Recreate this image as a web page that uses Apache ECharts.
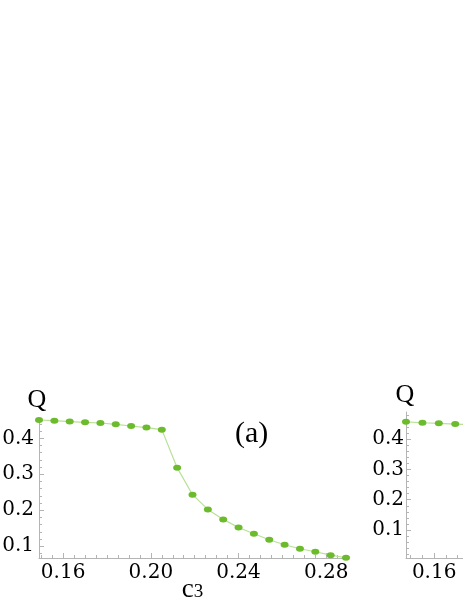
<!DOCTYPE html>
<html><head><meta charset="utf-8">
<script src="https://cdn.jsdelivr.net/npm/echarts@6/dist/echarts.min.js"></script>
<style>html,body{margin:0;padding:0;background:#fff;overflow:hidden}#c{width:463px;height:599px}</style>
</head><body><div id="c"></div>
<script>
// Panel (a)
const c3A = [0.149,0.156,0.163,0.170,0.177,0.184,0.191,0.198,0.205,0.212,0.219,0.226,0.233,0.240,0.247,0.254,0.261,0.268,0.275,0.282,0.289];
const qA  = [0.451,0.449,0.4465,0.4446,0.4426,0.439,0.4343,0.4298,0.4242,0.3184,0.2432,0.2022,0.1744,0.152,0.1345,0.1178,0.1039,0.0927,0.0844,0.075,0.0677];
// Panel (b) (cut off at the right edge)
const c3B = [0.148,0.155,0.162,0.169,0.176];
const qB  = [0.457,0.454,0.452,0.4495,0.447];
// ticks
const xMajor = [0.16,0.20,0.24,0.28];
const yMajor = [0.1,0.2,0.3,0.4];
const panelLabel = '(a)';

function range(a,b,s){const r=[];for(let i=Math.round(a/s);i<=Math.round(b/s);i++){r.push(+(i*s).toFixed(4));}return r;}
const xMinor = range(0.15,0.285,0.005).filter(v=>!xMajor.some(m=>Math.abs(m-v)<1e-6));
const yMinorA = range(0.08,0.44,0.02).filter(v=>!yMajor.some(m=>Math.abs(m-v)<1e-6));
const yMinorB = range(0.02,0.48,0.02).filter(v=>!yMajor.some(m=>Math.abs(m-v)<1e-6));

const AX = '#b4b4b4';
const TICKFONT = {fontFamily:'DejaVu Serif', fontSize:20, color:'#000'};
const GREEN = '#6cbb2c', LGREEN = '#b8e096';

function xMajorAxis(g,min,max,withName){
  const o = {type:'value', gridIndex:g, min:min, max:max, position:'bottom', axisLine:{show:true,onZero:false,lineStyle:{color:AX,width:1}},
    axisTick:{show:true,inside:true,length:5,customValues:xMajor,lineStyle:{color:AX}},
    axisLabel:Object.assign({show:true,margin:5,customValues:xMajor,formatter:v=>v.toFixed(2)},TICKFONT),
    splitLine:{show:false}};
  if(withName){
    o.name='{c|c}{s|3}'; o.nameLocation='middle'; o.nameGap=18; o.nameMoveOverlap=false;
    o.nameTextStyle={rich:{c:{fontFamily:'Liberation Serif',fontSize:27,color:'#000',verticalAlign:'top',lineHeight:26},
                           s:{fontFamily:'Liberation Serif',fontSize:19,color:'#000',padding:[14,0,0,0],verticalAlign:'bottom',lineHeight:18}}};
  }
  return o;
}
function xMinorAxis(g,min,max){
  return {type:'value', gridIndex:g, min:min, max:max, position:'bottom',
    axisLine:{show:false,onZero:false}, axisTick:{show:true,inside:true,length:3,customValues:xMinor,lineStyle:{color:AX}},
    axisLabel:{show:false}, splitLine:{show:false}};
}
function yMajorAxis(g,min,max,margin,gap,pad){
  return {type:'value', gridIndex:g, min:min, max:max, position:'left',
    name:'Q', nameLocation:'end', nameGap:gap, nameMoveOverlap:false,
    nameTextStyle:{fontFamily:'Liberation Serif',fontSize:26,color:'#000',padding:pad},
    axisLine:{show:true,onZero:false,lineStyle:{color:AX,width:1}},
    axisTick:{show:true,inside:true,length:5,customValues:yMajor,lineStyle:{color:AX}},
    axisLabel:Object.assign({show:true,margin:margin,customValues:yMajor,formatter:v=>v.toFixed(1)},TICKFONT),
    splitLine:{show:false}};
}
function yMinorAxis(g,min,max,minor){
  return {type:'value', gridIndex:g, min:min, max:max, position:'left',
    axisLine:{show:false,onZero:false}, axisTick:{show:true,inside:true,length:3,customValues:minor,lineStyle:{color:AX}},
    axisLabel:{show:false}, splitLine:{show:false}};
}

const chart = echarts.init(document.getElementById('c'), null, {renderer:'canvas'});
chart.setOption({
  backgroundColor:'#fff',
  animation:false,
  grid:[
    {left:39, top:420, width:307, height:138, outerBoundsMode:'none', containLabel:false},
    {left:406, top:412, width:333, height:146, outerBoundsMode:'none', containLabel:false}
  ],
  xAxis:[
    xMajorAxis(0,0.149,0.289,true), xMinorAxis(0,0.149,0.289),
    xMajorAxis(1,0.148,0.290,false), xMinorAxis(1,0.148,0.290)
  ],
  yAxis:[
    yMajorAxis(0,0.067,0.451,5,7,[0,4,0,0]), yMinorAxis(0,0.067,0.451,yMinorA),
    yMajorAxis(1,0.0076,0.4894,2,4,[0,2,0,0]), yMinorAxis(1,0.0076,0.4894,yMinorB)
  ],
  series:[
    {type:'line', xAxisIndex:0, yAxisIndex:0, data:c3A.map((x,i)=>[x,qA[i]]),
     symbol:'circle', symbolSize:[8,6], clip:false,
     itemStyle:{color:GREEN}, lineStyle:{color:LGREEN,width:1.2}},
    {type:'line', xAxisIndex:2, yAxisIndex:2, data:c3B.map((x,i)=>[x,qB[i]]),
     symbol:'circle', symbolSize:[8,6], clip:false,
     itemStyle:{color:GREEN}, lineStyle:{color:LGREEN,width:1.2}}
  ],
  graphic:[
    {type:'text', left:235, top:419, style:{text:panelLabel, font:'30px "Liberation Serif"', fill:'#000'}}
  ]
});
</script>
</body></html>
